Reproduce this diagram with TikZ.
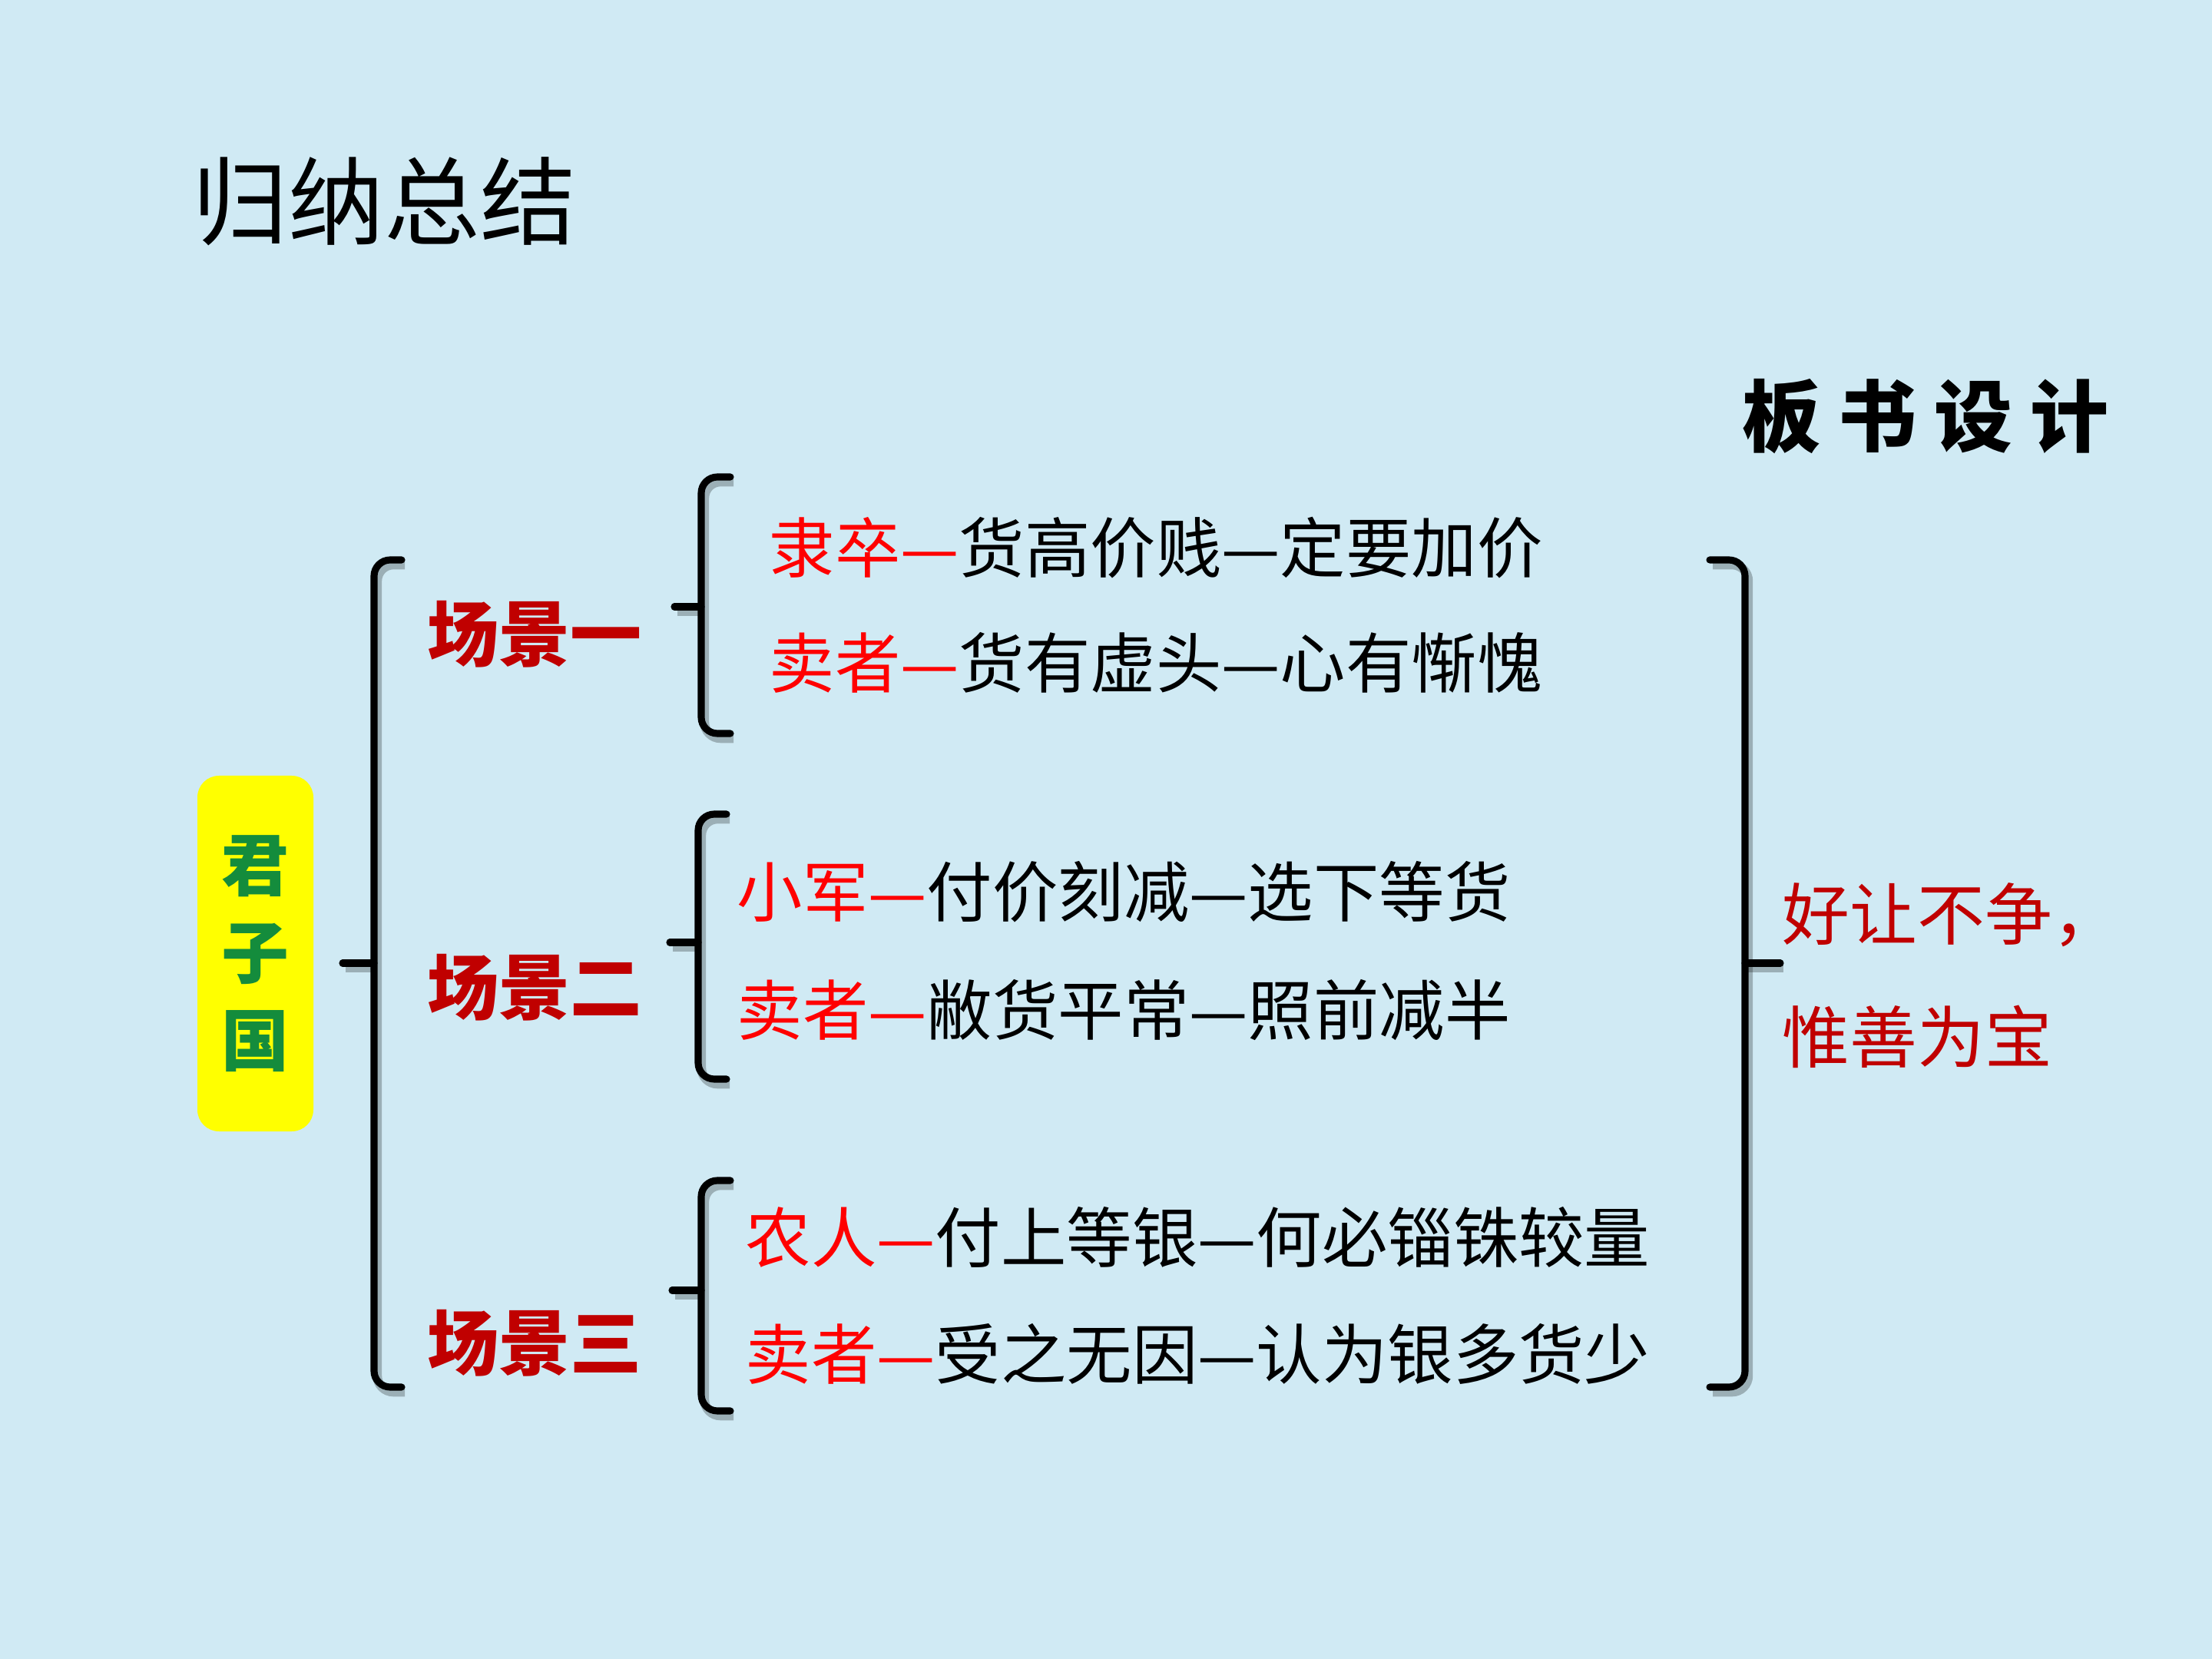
\documentclass[tikz,border=0pt]{standalone}
\usepackage{fontspec}
\setmainfont{Noto Sans CJK SC}
\usetikzlibrary{positioning}
\definecolor{BgBlue}{RGB}{208,234,244}
\definecolor{SpkRed}{RGB}{255,0,0}
\definecolor{SceneRed}{RGB}{192,0,0}
\definecolor{JzgGreen}{RGB}{20,140,60}
\definecolor{BoxYellow}{RGB}{255,255,0}

\begin{document}
\begin{tikzpicture}[
          line/.style={font=\fontsize{24.3}{28}\selectfont, anchor=west, inner sep=0pt},
          scene/.style={font=\fontsize{26.5}{30}\selectfont\bfseries,
                        text=SceneRed, anchor=west, inner sep=0pt},
          brace/.style={line width=2.6pt, line cap=round, rounded corners=6pt,
                        preaction={draw, line width=3.4pt, black, opacity=.25,
                                   transform canvas={shift={(1.2pt,-1.8pt)}}}}
        ]
        \fill[BgBlue] (0,0) rectangle (28.8,-21.6);
        \useasboundingbox (0,0) rectangle (28.8,-21.6);

        % Headings
        \node[font=\fontsize{35.5}{40}\selectfont, anchor=west, inner sep=0pt]
              (title) at (2.50,-2.62) {归纳总结};
        \node[font=\fontsize{29}{32}\selectfont\bfseries]
              (bsheji) at (25.07,-5.42) {板\hspace{6.5pt}书\hspace{6.5pt}设\hspace{6.5pt}计};

        % Country box
        \node[fill=BoxYellow, rounded corners=8pt, minimum width=1.51cm,
              minimum height=4.63cm, inner sep=0pt, align=center, text=JzgGreen,
              font=\fontsize{25}{32.4}\selectfont\bfseries]
              (jzg) at (3.325,-12.415) {君\\子\\国};

        % Scenes
        \node[scene] (s1) at (5.56,-8.26)  {场景一};
        \node[scene] (s2) at (5.56,-12.86) {场景二};
        \node[scene] (s3) at (5.56,-17.49) {场景三};

        \node[line] (s1a) at (10.01,-7.13)  {\textcolor{SpkRed}{隶卒—}货高价贱—定要加价};
        \node[line] (s1b) at (10.01,-8.63)  {\textcolor{SpkRed}{卖者—}货有虚头—心有惭愧};
        \node[line] (s2a) at (9.59,-11.61)  {\textcolor{SpkRed}{小军—}付价刻减—选下等货};
        \node[line] (s2b) at (9.59,-13.15)  {\textcolor{SpkRed}{卖者—}敝货平常—照前减半};
        \node[line] (s3a) at (9.70,-16.11)  {\textcolor{SpkRed}{农人—}付上等银—何必锱铢较量};
        \node[line] (s3b) at (9.70,-17.63)  {\textcolor{SpkRed}{卖者—}受之无因—认为银多货少};

        % Moral
        \node[font=\fontsize{25}{45.5}\selectfont, text=SceneRed, anchor=west,
              inner sep=0pt, align=left]
              (moral) at (23.20,-12.70) {好让不争，\\惟善为宝};

        % Braces
        \draw[brace] (5.23,-7.29) -- (4.87,-7.29) -- (4.87,-18.06) -- (5.23,-18.06);
        \draw[brace] (4.46,-12.54) -- (4.87,-12.54);

        \draw[brace] (9.51,-6.21) -- (9.13,-6.21) -- (9.13,-9.55) -- (9.51,-9.55);
        \draw[brace] (8.78,-7.90) -- (9.13,-7.90);
        \draw[brace] (9.46,-10.60) -- (9.09,-10.60) -- (9.09,-14.05) -- (9.46,-14.05);
        \draw[brace] (8.72,-12.27) -- (9.09,-12.27);
        \draw[brace] (9.51,-15.37) -- (9.13,-15.37) -- (9.13,-18.37) -- (9.51,-18.37);
        \draw[brace] (8.75,-16.80) -- (9.13,-16.80);

        \draw[brace] (22.26,-7.29) -- (22.72,-7.29) -- (22.72,-18.06) -- (22.26,-18.06);
        \draw[brace] (22.72,-12.54) -- (23.18,-12.54);
      \end{tikzpicture}
\end{document}
